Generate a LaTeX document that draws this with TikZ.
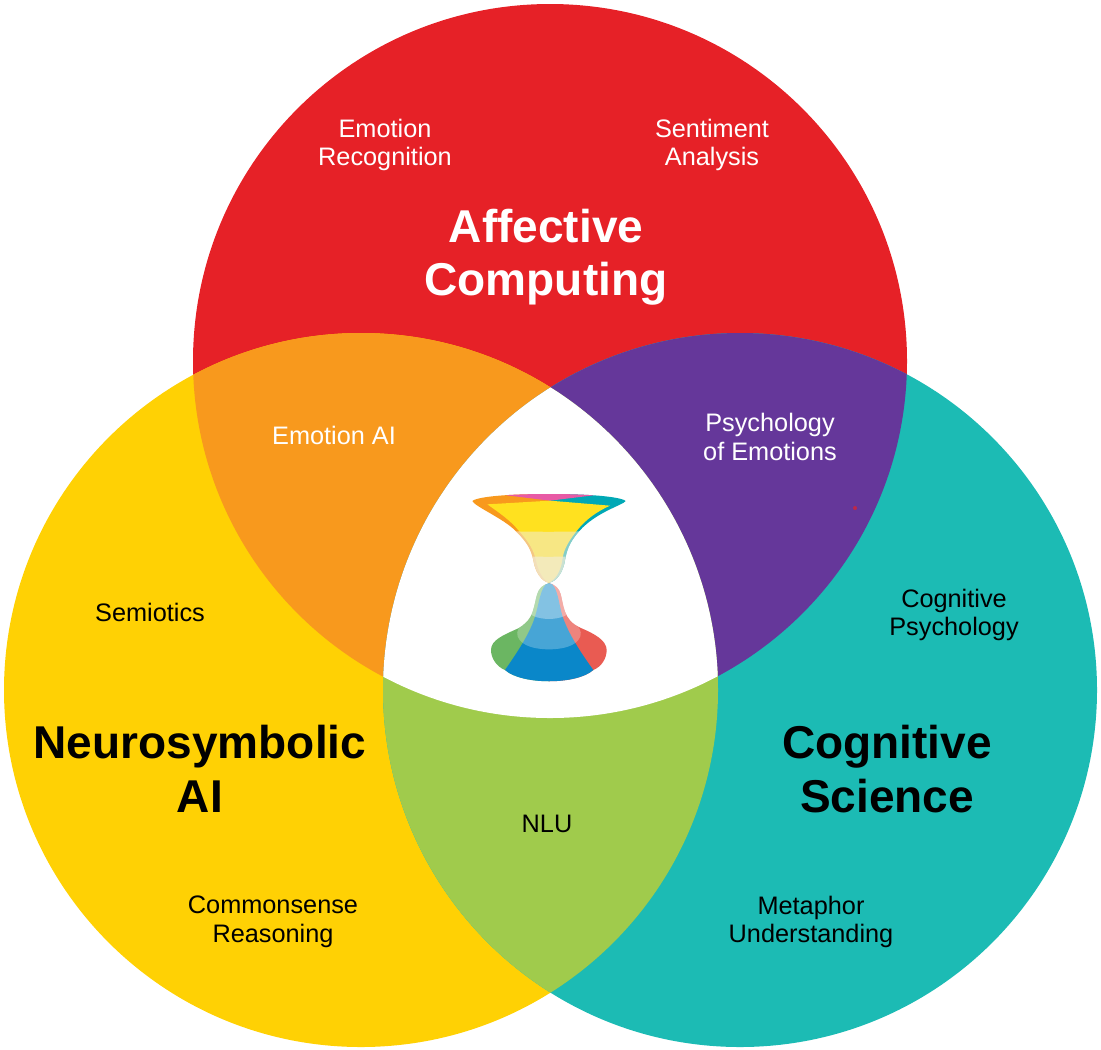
\documentclass[tikz,border=0pt]{standalone}
\usepackage{fontspec}
\setmainfont{Liberation Sans}
\definecolor{affred}{HTML}{E62127}
\definecolor{neuroyellow}{HTML}{FFD104}
\definecolor{cogteal}{HTML}{1CBBB4}
\definecolor{lensorange}{HTML}{F8991D}
\definecolor{lenspurple}{HTML}{65379A}
\definecolor{lensgreen}{HTML}{A0CB4C}
\definecolor{cupyellow}{HTML}{FFE11F}
\definecolor{cuppink}{HTML}{E85AA5}
\definecolor{cupteal}{HTML}{00A8B5}
\definecolor{cupwash}{HTML}{F2EDD8}
\definecolor{basegreen}{HTML}{6BB662}
\definecolor{basered}{HTML}{E95B52}
\definecolor{baseblue}{HTML}{0A87C9}
\begin{document}
\begin{tikzpicture}[
    x=0.02cm, y=-0.02cm,
    label/.style={align=center, font=\fontsize{14.4}{16.4}\selectfont},
    whitelabel/.style={label, text=white},
    title/.style={align=center, font=\fontsize{26.2}{30.5}\selectfont\bfseries}
]
    \useasboundingbox (0,0) rectangle (1101,1049);
    \def\redcircle{(550,361) circle [radius=357]}
    \def\yellowcircle{(361,690) circle [radius=357]}
    \def\tealcircle{(740,690) circle [radius=357]}

    % Circles
    \fill[affred] \redcircle;
    \fill[neuroyellow] \yellowcircle;
    \fill[cogteal] \tealcircle;

    % Overlaps
    \begin{scope}
        \clip \redcircle;
        \fill[lensorange] \yellowcircle;
        \fill[lenspurple] \tealcircle;
    \end{scope}
    \begin{scope}
        \clip \yellowcircle;
        \fill[lensgreen] \tealcircle;
    \end{scope}
    \begin{scope}
        \clip \redcircle;
        \clip \yellowcircle;
        \fill[white] \tealcircle;
    \end{scope}
    \fill[affred!70!lenspurple] (855,508) circle [radius=2];

    % Top of the hourglass
    \begin{scope}[shift={(450,470)}, x=0.00667cm, y=-0.00667cm]
        \def\cuppath{(67,93) .. controls (75,85) and (130,72) .. (297,72)
            .. controls (460,72) and (520,85) .. (527,93)
            .. controls (520,105) and (440,125) .. (388,183)
            .. controls (355,220) and (350,245) .. (345,270)
            .. controls (340,305) and (320,335) .. (297,338)
            .. controls (275,335) and (255,305) .. (250,270)
            .. controls (243,240) and (235,220) .. (197,183)
            .. controls (160,145) and (75,110) .. (67,93) -- cycle}
        \begin{scope}
            \clip \cuppath;
            \fill[lensorange] (60,60) rectangle (297,345);
            \fill[cupteal] (297,60) rectangle (530,345);
            \fill[cuppink] (170,60) -- (430,60) -- (430,76) -- (300,92) -- (170,76) -- cycle;
            \fill[cupyellow] (112,103) -- (300,92) -- (480,107) .. controls (440,125) and (405,150) .. (380,183)
                .. controls (350,220) and (340,245) .. (337,270)
                .. controls (332,305) and (315,330) .. (297,338)
                .. controls (280,330) and (265,305) .. (258,270)
                .. controls (250,240) and (240,220) .. (207,183)
                .. controls (180,150) and (150,130) .. (112,103) -- cycle;
            \fill[cupwash, opacity=0.55] (150,183) .. controls (250,186) and (340,186) .. (440,183) -- (440,345) -- (150,345) -- cycle;
            \fill[cupwash, opacity=0.65] (150,258) .. controls (250,261) and (340,261) .. (440,258) -- (440,345) -- (150,345) -- cycle;
        \end{scope}

        % Bottom of the hourglass
        \def\basepath{(297,340) .. controls (255,350) and (262,385) .. (248,425)
            .. controls (240,450) and (222,465) .. (205,475)
            .. controls (160,495) and (123,510) .. (123,540)
            .. controls (123,565) and (140,590) .. (165,600)
            .. controls (215,645) and (380,645) .. (430,600)
            .. controls (455,590) and (470,565) .. (470,540)
            .. controls (470,510) and (430,490) .. (395,475)
            .. controls (365,462) and (352,445) .. (345,425)
            .. controls (330,385) and (340,350) .. (297,340) -- cycle}
        \begin{scope}
            \clip \basepath;
            \fill[basegreen] (100,330) rectangle (297,650);
            \fill[basered] (297,330) rectangle (480,650);
            \fill[baseblue] (297,335) .. controls (270,350) and (268,400) .. (255,440)
                .. controls (240,490) and (200,550) .. (165,600) -- (165,650) -- (430,650) -- (430,600)
                .. controls (390,545) and (355,490) .. (338,440)
                .. controls (325,400) and (325,350) .. (297,335) -- cycle;
            \fill[white, opacity=0.25] (215,330) -- (379,330) -- (379,465)
                .. controls (410,490) and (390,538) .. (297,538)
                .. controls (204,538) and (184,490) .. (215,465) -- cycle;
            \fill[white, opacity=0.33] (230,330) -- (364,330) -- (364,413)
                .. controls (364,458) and (230,458) .. (230,413) -- cycle;
        \end{scope}
    \end{scope}

    % Labels
    \node[title, text=white] (affective) at (546,257) {Affective\\Computing};
    \node[title] (neuro) at (200,769) {Neurosymbolic\\AI};
    \node[title] (cognitive) at (887,769) {Cognitive\\Science};
    \node[whitelabel] (recognition) at (385,145) {Emotion\\Recognition};
    \node[whitelabel] (sentiment) at (712,145) {Sentiment\\Analysis};
    \node[whitelabel] (emotionai) at (334,435) {Emotion AI};
    \node[whitelabel] (psychemo) at (770,437) {Psychology\\of Emotions};
    \node[label] (semiotics) at (150,612) {Semiotics};
    \node[label] (cogpsych) at (954,615) {Cognitive\\Psychology};
    \node[label] (nlu) at (547,824) {NLU};
    \node[label] (commonsense) at (273,922) {Commonsense\\Reasoning};
    \node[label] (metaphor) at (811,922) {Metaphor\\Understanding};
\end{tikzpicture}
\end{document}
